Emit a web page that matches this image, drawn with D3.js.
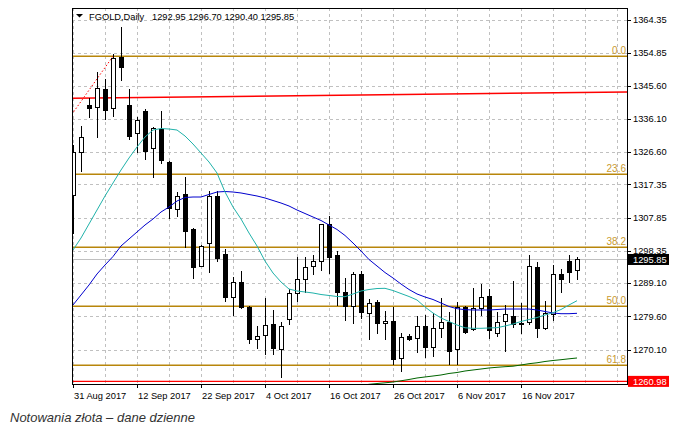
<!DOCTYPE html>
<html>
<head>
<meta charset="utf-8">
<script src="https://d3js.org/d3.v7.min.js"></script>
<style>
    body { margin: 0; background: #fff; }
    svg { display: block; }
    text { font-family: "Liberation Sans", Arial, sans-serif; }
</style>
</head>
<body>
<script>
// daily bars, FGOLD
var dates = ["2017-08-31", "2017-09-01", "2017-09-04", "2017-09-05", "2017-09-06", "2017-09-07", "2017-09-08",
    "2017-09-11", "2017-09-12", "2017-09-13", "2017-09-14", "2017-09-15", "2017-09-18", "2017-09-19", "2017-09-20",
    "2017-09-21", "2017-09-22", "2017-09-25", "2017-09-26", "2017-09-27", "2017-09-28", "2017-09-29", "2017-10-02",
    "2017-10-03", "2017-10-04", "2017-10-05", "2017-10-06", "2017-10-09", "2017-10-10", "2017-10-11", "2017-10-12",
    "2017-10-13", "2017-10-16", "2017-10-17", "2017-10-18", "2017-10-19", "2017-10-20", "2017-10-23", "2017-10-24",
    "2017-10-25", "2017-10-26", "2017-10-27", "2017-10-29", "2017-10-30", "2017-10-31", "2017-11-01", "2017-11-02",
    "2017-11-03", "2017-11-06", "2017-11-07", "2017-11-08", "2017-11-09", "2017-11-10", "2017-11-13", "2017-11-14",
    "2017-11-15", "2017-11-16", "2017-11-17", "2017-11-20", "2017-11-21", "2017-11-22", "2017-11-23", "2017-11-24",
    "2017-11-27"];
var opens = [1314.29, 1326.68, 1340.04, 1339.55, 1344.62, 1339.09, 1353.85, 1340.04, 1331.95, 1338.32,
    1327.66, 1333.18, 1323.82, 1310.21, 1314.50, 1304.58, 1294.08, 1300.66, 1314.01, 1297.34,
    1285.04, 1289.50, 1282.35, 1273.03, 1274.26, 1277.41, 1270.17, 1278.75, 1286.19, 1290.19,
    1294.08, 1295.51, 1306.01, 1297.14, 1286.64, 1282.55, 1291.71, 1280.47, 1283.61, 1277.61,
    1278.26, 1267.60, 1274.07, 1273.31, 1276.83, 1270.91, 1276.26, 1277.89, 1270.17, 1282.18,
    1275.98, 1281.90, 1285.50, 1274.75, 1278.35, 1279.69, 1277.30, 1277.90, 1293.79, 1276.35,
    1280.27, 1291.71, 1295.42, 1292.95];
var highs = [1328.60, 1334.03, 1341.96, 1349.39, 1347.48, 1354.54, 1362.26, 1344.62, 1336.69, 1338.90,
    1333.83, 1338.32, 1324.10, 1315.07, 1319.53, 1304.78, 1300.00, 1315.44, 1315.53, 1298.77,
    1290.93, 1292.56, 1282.50, 1276.83, 1284.76, 1281.41, 1278.07, 1287.42, 1296.65, 1296.65,
    1297.14, 1306.00, 1308.29, 1298.28, 1290.47, 1292.36, 1292.56, 1284.56, 1284.27, 1281.12,
    1282.35, 1274.75, 1274.46, 1279.69, 1280.00, 1280.47, 1284.76, 1280.92, 1283.78, 1282.56,
    1287.62, 1288.85, 1287.33, 1280.92, 1282.84, 1289.79, 1283.50, 1297.14, 1295.22, 1283.88,
    1294.28, 1293.12, 1297.14, 1296.70];
var lows = [1303.33, 1321.25, 1336.70, 1330.97, 1336.04, 1336.98, 1347.19, 1330.32, 1326.51, 1324.60,
    1319.53, 1323.37, 1307.81, 1308.29, 1299.51, 1290.65, 1293.90, 1292.36, 1295.42, 1283.98,
    1279.98, 1282.07, 1272.06, 1270.63, 1268.74, 1268.74, 1262.33, 1277.32, 1284.00, 1286.64,
    1291.62, 1292.85, 1292.08, 1282.84, 1278.55, 1277.78, 1279.04, 1273.12, 1274.75, 1273.12,
    1265.97, 1264.05, 1272.90, 1269.48, 1268.05, 1268.34, 1273.77, 1265.88, 1265.88, 1274.90,
    1275.70, 1279.98, 1273.49, 1274.07, 1269.68, 1276.60, 1274.75, 1277.50, 1273.77, 1276.00,
    1278.55, 1286.57, 1289.50, 1290.40];
var closes = [1326.68, 1330.97, 1339.09, 1344.82, 1338.61, 1353.57, 1350.99, 1331.26, 1335.66, 1326.97,
    1333.38, 1324.31, 1310.67, 1314.10, 1304.00, 1293.79, 1299.80, 1314.01, 1296.37, 1285.21,
    1289.50, 1282.35, 1273.03, 1273.97, 1277.12, 1270.46, 1276.83, 1286.19, 1290.19, 1293.79,
    1295.51, 1305.92, 1296.65, 1286.64, 1282.55, 1291.71, 1280.92, 1283.33, 1277.61, 1278.26,
    1267.31, 1273.77, 1273.03, 1276.83, 1270.91, 1276.26, 1277.89, 1269.77, 1282.35, 1275.20,
    1281.90, 1285.21, 1275.69, 1278.07, 1280.18, 1277.41, 1277.78, 1293.99, 1276.17, 1280.47,
    1291.71, 1290.38, 1292.19, 1295.85];

// moving averages
var maFast = [1298.56, 1301.99, 1306.00, 1310.00, 1314.01, 1317.73, 1321.44, 1324.88, 1328.02, 1330.88,
    1332.88, 1333.31, 1333.17, 1332.88, 1331.17, 1328.88, 1326.31, 1323.73, 1320.58, 1315.15,
    1310.86, 1307.43, 1303.42, 1299.71, 1295.41, 1291.98, 1289.41, 1287.40, 1286.83, 1286.55,
    1286.26, 1285.83, 1285.55, 1285.26, 1285.20, 1285.97, 1286.83, 1287.26, 1287.54, 1287.60,
    1286.97, 1286.11, 1285.26, 1284.26, 1282.26, 1280.54, 1279.11, 1278.11, 1277.11, 1276.31,
    1276.16, 1276.16, 1276.25, 1276.34, 1276.82, 1277.39, 1278.11, 1278.68, 1279.25, 1279.97,
    1280.63, 1281.54, 1282.83, 1284.06];
var maSlow = [1282.83, 1285.69, 1288.55, 1291.70, 1294.27, 1296.70, 1299.71, 1301.71, 1303.71, 1305.71,
    1307.43, 1309.43, 1310.86, 1312.58, 1313.58, 1313.72, 1313.72, 1314.44, 1315.15, 1315.29,
    1315.15, 1314.87, 1314.44, 1314.01, 1313.44, 1312.72, 1312.00, 1311.15, 1310.00, 1309.00,
    1308.00, 1307.00, 1305.71, 1304.43, 1302.71, 1300.56, 1298.27, 1295.84, 1293.98, 1292.12,
    1290.55, 1288.83, 1287.26, 1285.98, 1285.12, 1284.40, 1283.40, 1282.40, 1281.77, 1281.49,
    1281.40, 1281.40, 1281.40, 1281.54, 1281.68, 1281.68, 1281.68, 1281.68, 1281.40, 1280.97,
    1280.54, 1280.34, 1280.34, 1280.45];
var maLong = [null, null, null, null, null, null, null, null, null, null,
    null, null, null, null, null, null, null, null, null, null,
    null, null, null, null, null, null, null, null, null, null,
    null, null, null, null, null, null, 1259.80, 1260.14, 1260.37, 1260.57,
    1260.80, 1261.15, 1261.52, 1261.95, 1262.24, 1262.52, 1262.81, 1263.24, 1263.52, 1263.95,
    1264.24, 1264.52, 1264.81, 1265.01, 1265.18, 1265.32, 1265.67, 1266.04, 1266.30, 1266.67,
    1266.95, 1267.18, 1267.44, 1267.67];

var yTicks = [1364.35, 1354.85, 1345.60, 1336.10, 1326.60, 1317.35, 1307.85, 1298.35, 1289.10, 1279.60, 1270.10];
var fibLevels = [0.0, 23.6, 38.2, 50.0, 61.8];
var fibHigh = 1353.97, fibLow = 1210.95;
var fibAnchors = [[5, 1353.97], [-39.3, 1210.95]];
var trendAnchors = [[0, 1341.95], [63, 1343.59]];
var lastPrice = 1295.85;
var alertPrice = 1260.98;
var ohlcTitle = "1292.95 1296.70 1290.40 1295.85";

window.onload = function () {
    var width = 684, height = 434;
    var left = 72, right = 627, top = 8, bottom = 384;

    var svg = d3.select("body").append("svg")
        .attr("width", width)
        .attr("height", height);

    var x = d3.scaleLinear().domain([0, dates.length - 1]).range([73, 577]);
    var y = d3.scaleLinear().domain([1270.10, 1364.35]).range([349.5, 20]);
    var px = function (v) { return Math.round(v) + 0.5; };

    svg.append("clipPath").attr("id", "plot")
        .append("rect")
        .attr("x", left).attr("y", top)
        .attr("width", right - left).attr("height", bottom - top);

    var g = svg.append("g").attr("clip-path", "url(#plot)");

    // grid
    g.selectAll("line.hgrid")
        .data(yTicks)
        .enter()
        .append("line")
        .attr("class", "hgrid")
        .attr("x1", left).attr("x2", right)
        .attr("y1", function (d) { return px(y(d)); })
        .attr("y2", function (d) { return px(y(d)); })
        .style("stroke", "#c0c0c0")
        .style("stroke-dasharray", "3,3");

    g.selectAll("line.vgrid")
        .data(d3.range(0, 70, 4))
        .enter()
        .append("line")
        .attr("class", "vgrid")
        .attr("y1", top).attr("y2", bottom)
        .attr("x1", function (d) { return px(x(d)); })
        .attr("x2", function (d) { return px(x(d)); })
        .style("stroke", "#c0c0c0")
        .style("stroke-dasharray", "3,3");

    // bid line, alert line
    g.append("line")
        .attr("x1", left).attr("x2", right)
        .attr("y1", px(y(lastPrice))).attr("y2", px(y(lastPrice)))
        .style("stroke", "#c0c0c0");

    // fibo levels
    var fibValue = function (l) { return fibHigh - (fibHigh - fibLow) * l / 100; };
    g.selectAll("line.fib")
        .data(fibLevels)
        .enter()
        .append("line")
        .attr("class", "fib")
        .attr("x1", left).attr("x2", right)
        .attr("y1", function (d) { return y(fibValue(d)); })
        .attr("y2", function (d) { return y(fibValue(d)); })
        .style("stroke", "#b8860b")
        .style("stroke-width", 1.4);

    g.selectAll("text.fib")
        .data(fibLevels)
        .enter()
        .append("text")
        .attr("class", "fib")
        .attr("x", right - 1)
        .attr("y", function (d) { return y(fibValue(d)) - 2.5; })
        .attr("text-anchor", "end")
        .style("font-size", "10px")
        .style("fill", "#c99a2e")
        .text(function (d) { return d.toFixed(1); });

    // fibo connector
    g.append("line")
        .attr("x1", x(fibAnchors[0][0])).attr("y1", y(fibAnchors[0][1]))
        .attr("x2", x(fibAnchors[1][0])).attr("y2", y(fibAnchors[1][1]))
        .style("stroke", "#ff0000")
        .style("stroke-dasharray", "1.5,2");

    // trend line
    var trend = d3.scaleLinear()
        .domain([trendAnchors[0][0], trendAnchors[1][0]])
        .range([trendAnchors[0][1], trendAnchors[1][1]]);
    g.append("line")
        .attr("x1", left).attr("x2", right)
        .attr("y1", y(trend(x.invert(left))))
        .attr("y2", y(trend(x.invert(right))))
        .style("stroke", "#ff0000")
        .style("stroke-width", 1.5);

    g.append("line")
        .attr("x1", left).attr("x2", right)
        .attr("y1", y(alertPrice)).attr("y2", y(alertPrice))
        .style("stroke", "#ff0000")
        .style("stroke-width", 1.3);

    // candles
    var idx = d3.range(dates.length);
    var candles = g.selectAll("g.candle")
        .data(idx)
        .enter()
        .append("g")
        .attr("class", "candle");

    candles.append("line")
        .attr("x1", function (i) { return px(x(i)); })
        .attr("x2", function (i) { return px(x(i)); })
        .attr("y1", function (i) { return Math.round(y(highs[i])); })
        .attr("y2", function (i) { return Math.round(y(lows[i])) + 1; })
        .style("stroke", "#000");

    candles.append("rect")
        .attr("x", function (i) { return px(x(i)) - 2; })
        .attr("y", function (i) { return px(y(Math.max(opens[i], closes[i]))); })
        .attr("width", 4)
        .attr("height", function (i) {
            var h = Math.round(y(Math.min(opens[i], closes[i]))) - Math.round(y(Math.max(opens[i], closes[i])));
            return Math.max(h, 1);
        })
        .style("fill", function (i) { return closes[i] >= opens[i] ? "#fff" : "#000"; })
        .style("stroke", "#000");

    // moving averages
    var maLine = d3.line()
        .defined(function (d) { return d != null; })
        .x(function (d, i) { return x(i); })
        .y(function (d) { return y(d); });

    [[maLong, "#006400"], [maSlow, "#0000cd"], [maFast, "#20b2aa"]].forEach(function (s) {
        g.append("path")
            .attr("d", maLine(s[0]))
            .style("fill", "none")
            .style("stroke", s[1])
            .style("stroke-width", 1);
    });

    // frame
    svg.append("rect")
        .attr("x", left + 0.5).attr("y", top + 0.5)
        .attr("width", right - left).attr("height", bottom - top)
        .style("fill", "none")
        .style("stroke", "#000");

    // price axis
    var ax = svg.append("g");
    ax.selectAll("line")
        .data(yTicks)
        .enter()
        .append("line")
        .attr("x1", right).attr("x2", right + 4)
        .attr("y1", function (d) { return px(y(d)); })
        .attr("y2", function (d) { return px(y(d)); })
        .style("stroke", "#000");
    ax.selectAll("text")
        .data(yTicks)
        .enter()
        .append("text")
        .attr("x", right + 6)
        .attr("y", function (d) { return y(d); })
        .attr("dy", "0.35em")
        .style("font-size", "9.3px")
        .style("fill", "#000")
        .text(function (d) { return d.toFixed(2); });

    [[lastPrice, "#000"], [alertPrice, "#ff0000"]].forEach(function (p) {
        svg.append("rect")
            .attr("x", right + 1).attr("y", y(p[0]) - 5.5)
            .attr("width", 41).attr("height", 11)
            .style("fill", p[1]);
        svg.append("text")
            .attr("x", right + 6)
            .attr("y", y(p[0]))
            .attr("dy", "0.35em")
            .style("font-size", "9.3px")
            .style("fill", "#fff")
            .text(p[0].toFixed(2));
    });

    // time axis
    var fmt = d3.timeFormat("%-d %b %Y");
    var parse = d3.timeParse("%Y-%m-%d");
    var tx = svg.append("g");
    var labelIdx = d3.range(0, dates.length, 8);
    tx.selectAll("line")
        .data(labelIdx)
        .enter()
        .append("line")
        .attr("x1", function (i) { return px(x(i)); })
        .attr("x2", function (i) { return px(x(i)); })
        .attr("y1", bottom).attr("y2", bottom + 4)
        .style("stroke", "#000");
    tx.selectAll("text")
        .data(labelIdx)
        .enter()
        .append("text")
        .attr("x", function (i) { return x(i) + 1; })
        .attr("y", bottom + 15)
        .style("font-size", "9.3px")
        .style("fill", "#000")
        .text(function (i) { return fmt(parse(dates[i])); });

    // title
    svg.append("path")
        .attr("d", "M76,14L83,14L79.5,17.5Z")
        .style("fill", "#000");
    svg.append("text")
        .attr("x", 89).attr("y", 20)
        .style("font-size", "9.3px")
        .style("fill", "#000")
        .text("FGOLD,Daily");
    svg.append("text")
        .attr("x", 152).attr("y", 20)
        .style("font-size", "9.3px")
        .style("fill", "#000")
        .text(ohlcTitle);

    // caption
    svg.append("text")
        .attr("x", 10).attr("y", 422)
        .style("font-size", "13px")
        .style("font-style", "italic")
        .style("fill", "#333")
        .text("Notowania złota – dane dzienne");
};
</script>
</body>
</html>
